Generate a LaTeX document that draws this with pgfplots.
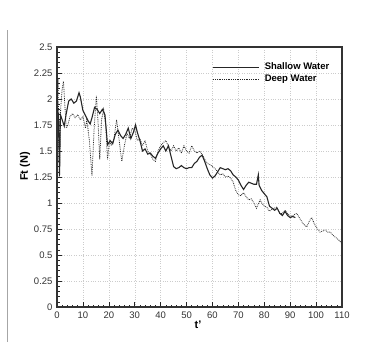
\documentclass[border=0pt]{standalone}
\usepackage{fontspec}
\setmainfont{Liberation Sans}
\usepackage{pgfplots}
\pgfplotsset{compat=1.18}
\begin{document}
\begin{tikzpicture}[x=1pt,y=1pt]
\begin{axis}[
  at={(0,0)}, anchor=south west,
  scale only axis, width=285pt, height=260pt,
  xmin=0, xmax=110, ymin=0, ymax=2.5,
  xtick distance=10, ytick distance=0.25,
  minor x tick num=4, minor y tick num=4,
  tick align=inside,
  xtick pos=bottom, ytick pos=left,
  major tick length=5pt, minor tick length=2.5pt,
  every tick/.style={black!85, semithick},
  axis line style={black!80, line width=1.1pt},
  grid=major,
  major grid style={gray!40, dotted, line width=0.45pt},
  /pgf/number format/assume math mode=true,
  /pgf/number format/.cd, fixed, precision=2, /pgfplots/.cd,
  tick label style={font=\fontsize{9.5}{11}\selectfont, text=black!80},
  xticklabel style={yshift=-1pt},
  yticklabel style={xshift=-1pt},
  xlabel={\bfseries t'}, ylabel={\bfseries Ft (N)},
  label style={font=\fontsize{11}{13}\selectfont},
  xlabel style={at={(axis description cs:0.495,-0.04)}, anchor=north},
  ylabel style={at={(axis description cs:-0.112,0.54)}, anchor=center},
  legend style={at={(0.535,0.955)}, anchor=north west, draw=none, fill=none,
    font=\bfseries\fontsize{9.5}{11}\selectfont, row sep=0pt, column sep=3pt},
  legend cell align=left,
  legend image code/.code={\draw[#1] (0pt,0pt) -- (46pt,0pt);},
]
\addplot[black!85, line width=1.1pt] coordinates {
(0,1.90) (0.5,1.86) (1.0,1.27) (1.3,1.85) (2.0,1.80) (2.8,1.74) (3.5,1.85)
(4.5,1.98) (5.5,2.00) (6.5,1.96) (7.5,1.98) (8.5,2.06) (9.0,2.02) (10,1.89)
(11,1.84) (12,1.79) (12.8,1.76) (13.5,1.82) (14.5,1.92) (15.5,1.90) (16.5,1.86)
(17.5,1.90) (18.5,1.85) (19.5,1.56) (20.5,1.60) (21.5,1.57) (22.5,1.66)
(23.5,1.70) (24.5,1.65) (25.5,1.62) (26.5,1.66) (27.5,1.72) (28.5,1.62)
(29.5,1.68) (30.3,1.75) (31,1.68) (32,1.60) (33,1.50) (34,1.52) (35,1.47)
(36,1.48) (37,1.45) (38,1.43) (39,1.48) (40,1.52) (41,1.55) (42,1.50) (43,1.55)
(44,1.45) (45,1.35) (46,1.33) (47,1.34) (48,1.36) (49,1.34) (50,1.33) (51,1.34)
(52,1.34) (53,1.38) (54,1.40) (55,1.44) (56,1.46) (57,1.40) (58,1.33) (59,1.27)
(60,1.24) (61,1.26) (62,1.30) (63,1.34) (64,1.33) (65,1.32) (66,1.33) (67,1.31)
(68,1.27) (69,1.25) (70,1.22) (71,1.17) (72,1.13) (73,1.17) (74,1.20) (75,1.19)
(76,1.18) (77,1.18) (77.7,1.27) (78,1.17) (79,1.12) (80,1.09) (81,1.06)
(82,0.97) (83,0.95) (84,0.93) (85,0.95) (86,0.90) (87,0.88) (88,0.92) (89,0.88)
(90,0.86) (91,0.87) (92,0.86)
};
\addlegendentry{Shallow Water}
\addplot[black!85, densely dotted, line width=0.8pt] coordinates {
(0,1.95) (0.4,2.20) (0.9,1.25) (1.4,1.90) (2.0,2.10) (2.5,2.17) (3,1.95)
(3.6,1.72) (4.2,1.75) (5,1.83) (6,1.86) (7,1.82) (8,1.85) (9,1.80) (10,1.83)
(11,1.72) (11.5,1.80) (12.5,1.60) (13.5,1.26) (14.3,1.70) (15.2,2.03)
(15.8,1.80) (16.5,1.42) (17.2,1.80) (18,1.90) (18.8,1.75) (19.5,1.42)
(20.3,1.60) (21,1.55) (22,1.62) (23,1.80) (24,1.60) (25,1.40) (26,1.55)
(27,1.67) (28,1.62) (29,1.72) (30,1.70) (31,1.60) (32,1.62) (33,1.55) (34,1.60)
(35,1.50) (36,1.47) (37,1.42) (38,1.40) (39,1.50) (40,1.55) (41,1.58) (42,1.60)
(43,1.55) (44,1.50) (45,1.55) (46,1.50) (47,1.53) (48,1.48) (49,1.55) (50,1.50)
(51,1.48) (52,1.55) (53,1.50) (54,1.48) (55,1.50) (56,1.47) (57,1.42) (58,1.38)
(59,1.37) (60,1.35) (61,1.33) (62,1.30) (63,1.27) (64,1.28) (65,1.25) (66,1.26)
(67,1.24) (68,1.20) (69,1.12) (70,1.08) (71,1.07) (72,1.10) (73,1.06) (74,1.03)
(75,1.04) (76,1.00) (77,0.95) (78.4,1.03) (79,1.00) (80,0.97) (81,0.96)
(82,0.92) (83,0.94) (84.8,0.96) (86,0.90) (87,0.90) (88,0.93) (89,0.90)
(90,0.87) (91,0.88) (92.5,0.90) (94,0.84) (95,0.80) (96.4,0.77) (97.5,0.83)
(98.3,0.86) (99.3,0.80) (100.3,0.76) (101.5,0.72) (102.5,0.73) (103.5,0.74)
(104.5,0.72) (105.5,0.72) (106.5,0.69) (107.5,0.67) (108.5,0.65) (109.3,0.63)
(110,0.61)
};
\addlegendentry{Deep Water}
\end{axis}
\draw[gray!70, line width=0.8pt] (-50,-35) -- (-50,277);
\useasboundingbox (-57,-35) rectangle (325,307);
\end{tikzpicture}
\end{document}
